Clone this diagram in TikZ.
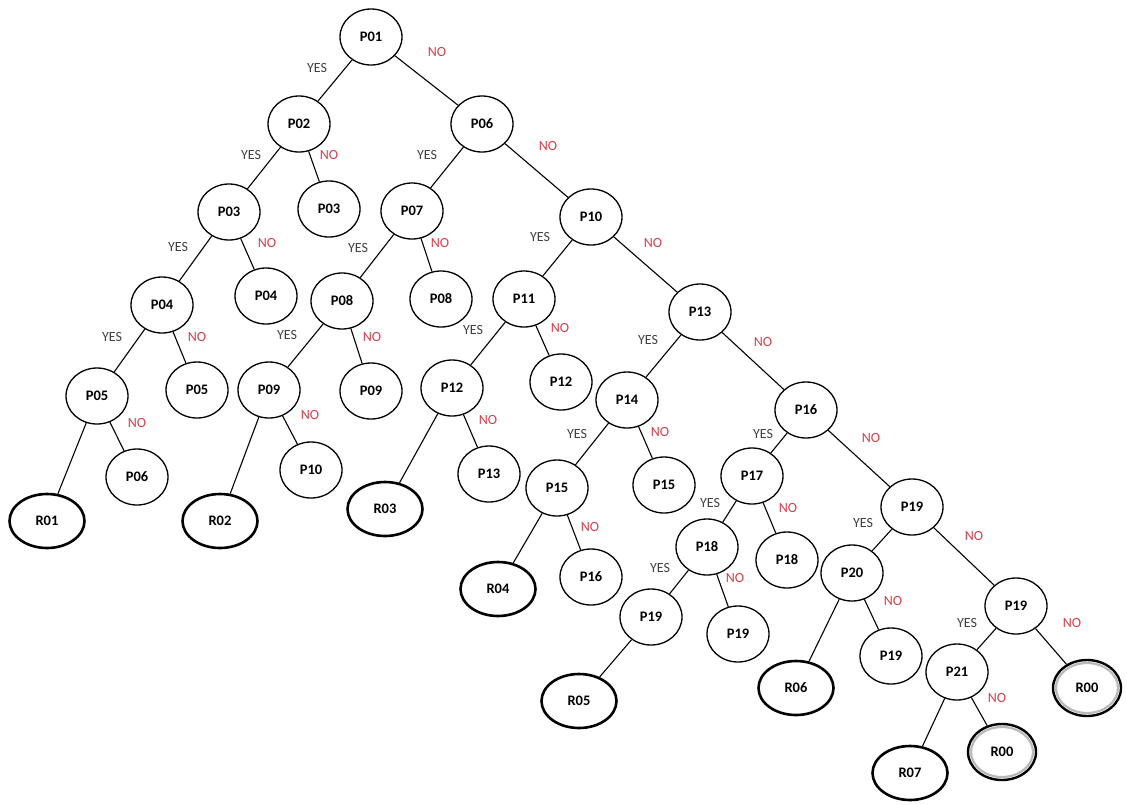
\documentclass[tikz,border=0pt]{standalone}
\usepackage{fontspec}
\setmainfont{Carlito}
\usetikzlibrary{shapes.geometric}
\definecolor{nored}{HTML}{D0404C}
\definecolor{yesgray}{HTML}{404040}
\tikzset{
  q/.style={ellipse, draw=black, line width=1.3pt, minimum width=62pt, minimum height=56pt, inner sep=0pt, font=\fontsize{14.5}{14.5}\selectfont\bfseries},
  res/.style={q, line width=2.6pt, minimum width=75pt, minimum height=54pt},
  nul/.style={q, line width=2.4pt, minimum width=68pt, minimum height=56pt,
    path picture={\draw[gray!55, line width=2.2pt] (path picture bounding box.center) ellipse [x radius=31pt, y radius=25pt];}},
  edge/.style={draw=black, line width=1.1pt},
  yl/.style={text=yesgray, font=\fontsize{14}{14}\selectfont, inner sep=0pt},
  nl/.style={text=nored, font=\fontsize{14}{14}\selectfont, inner sep=0pt},
}
\begin{document}
\begin{tikzpicture}[x=1pt,y=-1pt]
\useasboundingbox (0,0) rectangle (1127,804);
% nodes
\node[q] (p01) at (371,37) {P01};
\node[q] (p02) at (299,124) {P02};
\node[q] (p06) at (482,124) {P06};
\node[q] (p03a) at (229,212) {P03};
\node[q] (p03b) at (329,209) {P03};
\node[q] (p07) at (412,211) {P07};
\node[q] (p10) at (591,217) {P10};
\node[q] (p04a) at (162,305) {P04};
\node[q] (p04b) at (266,296) {P04};
\node[q] (p08a) at (342,301) {P08};
\node[q] (p08b) at (441,299) {P08};
\node[q] (p11) at (524,299) {P11};
\node[q] (p13a) at (700,312) {P13};
\node[q] (p05a) at (97,396) {P05};
\node[q] (p05b) at (197,390) {P05};
\node[q] (p09a) at (269,390) {P09};
\node[q] (p09b) at (371,391) {P09};
\node[q] (p12a) at (452,388) {P12};
\node[q] (p12b) at (561,382) {P12};
\node[q] (p14) at (627,400) {P14};
\node[q] (p16a) at (806,410) {P16};
\node[q] (p06b) at (137,477) {P06};
\node[res] (r01) at (47,521) {R01};
\node[q] (p10b) at (311,470) {P10};
\node[res] (r02) at (220,521) {R02};
\node[q] (p13b) at (489,474) {P13};
\node[res] (r03) at (385,509) {R03};
\node[q] (p15a) at (557,488) {P15};
\node[q] (p15b) at (664,485) {P15};
\node[q] (p17) at (752,476) {P17};
\node[q] (p19a) at (912,507) {P19};
\node[q] (p16b) at (591,577) {P16};
\node[res] (r04) at (498,589) {R04};
\node[q] (p18a) at (707,547) {P18};
\node[q] (p18b) at (787,560) {P18};
\node[q] (p20) at (852,573) {P20};
\node[q] (p19b) at (651,617) {P19};
\node[q] (p19c) at (738,634) {P19};
\node[res] (r05) at (579,701) {R05};
\node[q] (p19d) at (891,656) {P19};
\node[res] (r06) at (796,688) {R06};
\node[q] (p19e) at (1016,606) {P19};
\node[q] (p21) at (957,672) {P21};
\node[nul] (r00a) at (1087,688) {R00};
\node[nul] (r00b) at (1002,752) {R00};
\node[res] (r07) at (910,773) {R07};
% edges
\path[edge] (p01) -- (p02); \path[edge] (p01) -- (p06);
\path[edge] (p02) -- (p03a); \path[edge] (p02) -- (p03b);
\path[edge] (p06) -- (p07); \path[edge] (p06) -- (p10);
\path[edge] (p03a) -- (p04a); \path[edge] (p03a) -- (p04b);
\path[edge] (p07) -- (p08a); \path[edge] (p07) -- (p08b);
\path[edge] (p10) -- (p11); \path[edge] (p10) -- (p13a);
\path[edge] (p04a) -- (p05a); \path[edge] (p04a) -- (p05b);
\path[edge] (p08a) -- (p09a); \path[edge] (p08a) -- (p09b);
\path[edge] (p11) -- (p12a); \path[edge] (p11) -- (p12b);
\path[edge] (p13a) -- (p14); \path[edge] (p13a) -- (p16a);
\path[edge] (p05a) -- (r01); \path[edge] (p05a) -- (p06b);
\path[edge] (p09a) -- (r02); \path[edge] (p09a) -- (p10b);
\path[edge] (p12a) -- (r03); \path[edge] (p12a) -- (p13b);
\path[edge] (p14) -- (p15a); \path[edge] (p14) -- (p15b);
\path[edge] (p16a) -- (p17); \path[edge] (p16a) -- (p19a);
\path[edge] (p15a) -- (r04); \path[edge] (p15a) -- (p16b);
\path[edge] (p17) -- (p18a); \path[edge] (p17) -- (p18b);
\path[edge] (p18a) -- (p19b); \path[edge] (p18a) -- (p19c);
\path[edge] (p19b) -- (r05);
\path[edge] (p19a) -- (p20); \path[edge] (p19a) -- (p19e);
\path[edge] (p20) -- (r06); \path[edge] (p20) -- (p19d);
\path[edge] (p19e) -- (p21); \path[edge] (p19e) -- (r00a);
\path[edge] (p21) -- (r07); \path[edge] (p21) -- (r00b);
% labels
\node[yl] (y1) at (317,68) {YES};
\node[nl] (n1) at (437,52) {NO};
\node[yl] (y2) at (251,155) {YES};
\node[nl] (n2) at (329,155) {NO};
\node[yl] (y3) at (427,155) {YES};
\node[nl] (n3) at (548,146) {NO};
\node[yl] (y4) at (178,247) {YES};
\node[nl] (n4) at (267,243) {NO};
\node[yl] (y5) at (358,248) {YES};
\node[nl] (n5) at (440,243) {NO};
\node[yl] (y6) at (540,237) {YES};
\node[nl] (n6) at (653,243) {NO};
\node[yl] (y7) at (112,337) {YES};
\node[nl] (n7) at (197,337) {NO};
\node[yl] (y8) at (287,335) {YES};
\node[nl] (n8) at (372,337) {NO};
\node[yl] (y9) at (473,330) {YES};
\node[nl] (n9) at (560,328) {NO};
\node[yl] (y10) at (648,340) {YES};
\node[nl] (n10) at (763,342) {NO};
\node[nl] (n11) at (137,423) {NO};
\node[nl] (n12) at (310,415) {NO};
\node[nl] (n13) at (488,420) {NO};
\node[yl] (y14) at (577,434) {YES};
\node[nl] (n14) at (660,432) {NO};
\node[yl] (y15) at (763,434) {YES};
\node[nl] (n15) at (871,438) {NO};
\node[nl] (n16) at (590,527) {NO};
\node[yl] (y17) at (710,503) {YES};
\node[nl] (n17) at (788,508) {NO};
\node[yl] (y18) at (660,568) {YES};
\node[nl] (n18) at (735,578) {NO};
\node[yl] (y19) at (863,523) {YES};
\node[nl] (n19) at (974,536) {NO};
\node[nl] (n20) at (893,601) {NO};
\node[yl] (y21) at (967,623) {YES};
\node[nl] (n21) at (1072,623) {NO};
\node[nl] (n22) at (997,698) {NO};
\end{tikzpicture}
\end{document}
